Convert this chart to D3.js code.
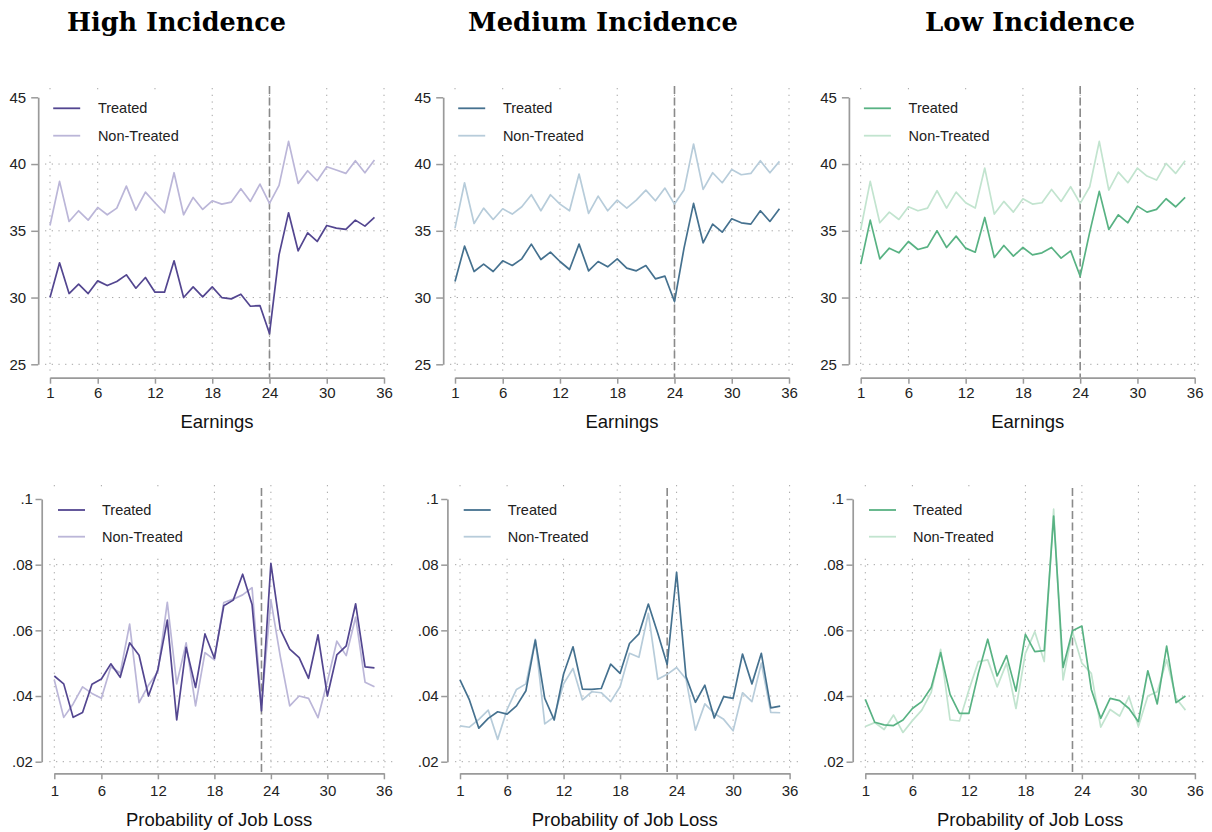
<!DOCTYPE html>
<html>
<head>
<meta charset="utf-8">
<script src="https://cdn.jsdelivr.net/npm/d3@7"></script>
<style>
  body { margin: 0; background: #fff; }
  svg { display: block; }
</style>
</head>
<body>
<svg id="chart" width="1212" height="832"></svg>
<script>
// Event-time periods (months)
const periods = [1,2,3,4,5,6,7,8,9,10,11,12,13,14,15,16,17,18,19,20,21,22,23,24,25,26,27,28,29,30,31,32,33,34,35];
const xTickValues = [1, 6, 12, 18, 24, 30, 36];
const earningsTicks = [25, 30, 35, 40, 45];
const jobLossTicks = [0.02, 0.04, 0.06, 0.08, 0.1];
const groupTitles = ["High Incidence", "Medium Incidence", "Low Incidence"];
const seriesNames = ["Treated", "Non-Treated"];
const rowLabels = ["Earnings", "Probability of Job Loss"];
const eventPeriods = [24, 23];

// Earnings
const earnHighTreated = [30.0, 32.6, 30.3, 31.0, 30.3, 31.25, 30.9, 31.2, 31.7, 30.7, 31.5, 30.4, 30.4, 32.75, 30.0, 30.8, 30.05, 30.8, 30.0, 29.9, 30.25, 29.35, 29.4, 27.3, 33.2, 36.35, 33.5, 34.85, 34.2, 35.4, 35.2, 35.1, 35.8, 35.35, 36.0];
const earnHighControl = [35.4, 38.7, 35.7, 36.5, 35.8, 36.75, 36.2, 36.7, 38.35, 36.55, 37.9, 37.1, 36.35, 39.35, 36.2, 37.5, 36.6, 37.25, 37.0, 37.15, 38.15, 37.2, 38.5, 37.05, 38.4, 41.7, 38.55, 39.5, 38.75, 39.8, 39.55, 39.3, 40.25, 39.35, 40.3];
const earnMedTreated = [31.2, 33.85, 31.95, 32.5, 31.95, 32.75, 32.4, 32.9, 34.0, 32.85, 33.4, 32.7, 32.1, 34.0, 32.0, 32.7, 32.3, 32.9, 32.2, 32.0, 32.4, 31.4, 31.6, 29.7, 33.7, 37.05, 34.1, 35.5, 34.9, 35.9, 35.6, 35.5, 36.5, 35.7, 36.65];
const earnMedControl = [35.2, 38.6, 35.55, 36.7, 35.85, 36.65, 36.25, 36.8, 37.7, 36.5, 37.7, 37.0, 36.5, 39.25, 36.3, 37.6, 36.5, 37.3, 36.7, 37.3, 38.05, 37.25, 38.2, 37.0, 38.05, 41.5, 38.1, 39.35, 38.6, 39.6, 39.2, 39.3, 40.25, 39.35, 40.2];
const earnLowTreated = [32.5, 35.8, 32.9, 33.7, 33.35, 34.2, 33.6, 33.8, 35.0, 33.75, 34.6, 33.7, 33.4, 36.0, 33.0, 33.9, 33.1, 33.75, 33.2, 33.35, 33.75, 32.95, 33.5, 31.6, 34.9, 37.95, 35.1, 36.2, 35.6, 36.85, 36.4, 36.6, 37.4, 36.8, 37.5];
const earnLowControl = [35.1, 38.7, 35.6, 36.4, 35.85, 36.8, 36.5, 36.7, 38.0, 36.7, 37.9, 37.1, 36.7, 39.7, 36.25, 37.2, 36.4, 37.4, 37.0, 37.1, 38.1, 37.2, 38.3, 37.05, 38.3, 41.7, 38.05, 39.4, 38.6, 39.7, 39.1, 38.8, 40.05, 39.3, 40.25];

// Probability of job loss
const lossHighTreated = [0.0461, 0.0437, 0.0335, 0.035, 0.0436, 0.0452, 0.0498, 0.0457, 0.0562, 0.0524, 0.040, 0.0481, 0.0631, 0.0327, 0.0548, 0.0426, 0.0589, 0.0515, 0.0675, 0.0692, 0.0771, 0.0679, 0.0355, 0.0804, 0.0603, 0.0543, 0.0517, 0.0454, 0.0586, 0.040, 0.0525, 0.0553, 0.0681, 0.0489, 0.0486];
const lossHighControl = [0.0449, 0.0335, 0.0376, 0.0428, 0.0408, 0.0393, 0.0489, 0.047, 0.0619, 0.038, 0.0433, 0.0474, 0.0685, 0.0437, 0.0562, 0.037, 0.0532, 0.051, 0.0685, 0.0695, 0.0708, 0.073, 0.037, 0.0692, 0.052, 0.037, 0.040, 0.0393, 0.0334, 0.0444, 0.0567, 0.0523, 0.064, 0.0442, 0.0428];
const lossMedTreated = [0.0449, 0.0388, 0.0302, 0.0332, 0.0352, 0.0345, 0.037, 0.0416, 0.057, 0.0393, 0.0327, 0.0467, 0.055, 0.0421, 0.042, 0.0423, 0.0497, 0.0469, 0.056, 0.0589, 0.068, 0.0591, 0.0496, 0.0777, 0.0459, 0.0381, 0.0433, 0.0333, 0.0398, 0.0393, 0.0528, 0.0437, 0.053, 0.0364, 0.0369];
const lossMedControl = [0.0309, 0.0305, 0.0329, 0.0357, 0.0268, 0.0359, 0.042, 0.0437, 0.0573, 0.0315, 0.0337, 0.0437, 0.0484, 0.0388, 0.0413, 0.041, 0.0383, 0.0428, 0.053, 0.0518, 0.0652, 0.0451, 0.0466, 0.0487, 0.0452, 0.0296, 0.0376, 0.0347, 0.0329, 0.0294, 0.041, 0.0383, 0.05, 0.035, 0.0349];
const lossLowTreated = [0.039, 0.032, 0.0312, 0.031, 0.0327, 0.0362, 0.0383, 0.0426, 0.0532, 0.0405, 0.0347, 0.0347, 0.0469, 0.0573, 0.0461, 0.0523, 0.0415, 0.0588, 0.0535, 0.0538, 0.0948, 0.0487, 0.0599, 0.0613, 0.042, 0.0332, 0.0393, 0.0386, 0.0362, 0.0322, 0.0477, 0.0376, 0.0552, 0.038, 0.040];
const lossLowControl = [0.0307, 0.0319, 0.0298, 0.0342, 0.0289, 0.0325, 0.0357, 0.0411, 0.0542, 0.0327, 0.0324, 0.0418, 0.0505, 0.051, 0.0428, 0.05, 0.0362, 0.053, 0.0596, 0.0505, 0.0969, 0.0449, 0.0596, 0.05, 0.0469, 0.0305, 0.0359, 0.0339, 0.0398, 0.0307, 0.04, 0.0413, 0.051, 0.0393, 0.0357];

const treatedColors = ["#534690", "#45718f", "#58b283"];
const controlColors = ["#bbb6d8", "#b7ccda", "#c2e4cf"];

const svg = d3.select("#chart");
const FONT = "'Liberation Sans', Arial, Helvetica, sans-serif";

// Row geometry
const rows = [
  {
    label: rowLabels[0], ticks: earningsTicks, domain: [25, 45], yRange: [364.3, 97.3],
    xStarts: [50, 455, 860.7], xSpan: 334, axisGap: 11.8,
    xAxisY: 377.7, gridTop: 88, gridBottom: 372, dashTop: 86,
    tickLabelY: 398, labelY: 428, tickLen: 7, labelPad: 5,
    legendTop: 108.3, legendStep: 27.4, legendLine: [15, 42], legendText: 59.7,
    legendBox: [92, 155], legendBoxW: 150,
    event: eventPeriods[0], fmt: d => String(d),
    series: [[earnHighTreated, earnHighControl], [earnMedTreated, earnMedControl], [earnLowTreated, earnLowControl]]
  },
  {
    label: rowLabels[1], ticks: jobLossTicks, domain: [0.02, 0.1], yRange: [761.7, 499],
    xStarts: [54.3, 460, 865.3], xSpan: 329.6, axisGap: 12.6,
    xAxisY: 773.3, gridTop: 485, gridBottom: 768, dashTop: 488,
    tickLabelY: 796, labelY: 826, tickLen: 6.2, labelPad: 2.6,
    legendTop: 510, legendStep: 26.7, legendLine: [16.3, 43.3], legendText: 60.3,
    legendBox: [489, 556], legendBoxW: 152,
    event: eventPeriods[1], fmt: d => String(d).replace(/^0\./, "."),
    series: [[lossHighTreated, lossHighControl], [lossMedTreated, lossMedControl], [lossLowTreated, lossLowControl]]
  }
];

rows.forEach(row => {
  row.xStarts.forEach((xs, col) => {
    const x = d3.scaleLinear().domain([1, 36]).range([xs, xs + row.xSpan]);
    const y = d3.scaleLinear().domain(row.domain).range(row.yRange);
    const axisX = xs - row.axisGap;
    const g = svg.append("g");

    // dotted grid
    const grid = g.append("g").attr("stroke", "#a6a6a6").attr("stroke-width", 1)
      .attr("stroke-dasharray", "1.3,5.4").attr("fill", "none");
    grid.selectAll("line.v").data(xTickValues).join("line").attr("class", "v")
      .attr("x1", d => x(d)).attr("x2", d => x(d))
      .attr("y1", row.gridTop).attr("y2", row.gridBottom);
    const hTicks = row.ticks.filter(t => t !== row.domain[1]);
    grid.selectAll("line.h").data(hTicks).join("line").attr("class", "h")
      .attr("x1", xs - 5).attr("x2", xs + row.xSpan + 9)
      .attr("y1", d => y(d)).attr("y2", d => y(d));

    // event line
    g.append("line")
      .attr("x1", x(row.event)).attr("x2", x(row.event))
      .attr("y1", row.dashTop).attr("y2", row.xAxisY)
      .attr("stroke", "#8a8a8a").attr("stroke-width", 1.6)
      .attr("stroke-dasharray", "8,3.5");

    // y axis
    const yAxis = d3.axisLeft(y).tickValues(row.ticks).tickSize(row.tickLen)
      .tickPadding(row.labelPad).tickFormat(row.fmt).tickSizeOuter(0);
    const ya = g.append("g").attr("transform", `translate(${axisX},0)`).call(yAxis);
    ya.select(".domain").attr("stroke", "#9a9a9a").attr("stroke-width", 1.7);
    ya.selectAll(".tick line").attr("stroke", "#9a9a9a").attr("stroke-width", 1.5);
    ya.selectAll(".tick text").attr("fill", "#222").attr("font-family", FONT).attr("font-size", 15);

    // x axis
    const xAxis = d3.axisBottom(x).tickValues(xTickValues).tickSize(6).tickSizeOuter(0).tickPadding(3);
    const xa = g.append("g").attr("transform", `translate(0,${row.xAxisY})`).call(xAxis);
    xa.select(".domain").attr("stroke", "#9a9a9a").attr("stroke-width", 1.7);
    xa.selectAll(".tick line").attr("stroke", "#9a9a9a").attr("stroke-width", 1.5);
    xa.selectAll(".tick text").attr("fill", "#222").attr("font-family", FONT).attr("font-size", 15)
      .attr("dy", null).attr("y", row.tickLabelY - row.xAxisY);

    // axis title
    g.append("text").attr("x", (x(1) + x(36)) / 2).attr("y", row.labelY)
      .attr("text-anchor", "middle").attr("font-family", FONT).attr("font-size", 18.5)
      .attr("fill", "#111").text(row.label);

    // series
    const line = d3.line().x((d, i) => x(periods[i])).y(d => y(d));
    const [treated, control] = row.series[col];
    g.append("path").datum(control).attr("d", line).attr("fill", "none")
      .attr("stroke", controlColors[col]).attr("stroke-width", 1.7).attr("stroke-linejoin", "round");
    g.append("path").datum(treated).attr("d", line).attr("fill", "none")
      .attr("stroke", treatedColors[col]).attr("stroke-width", 1.7).attr("stroke-linejoin", "round");

    // legend
    const lg = g.append("g");
    lg.append("rect").attr("x", axisX + 6).attr("y", row.legendBox[0])
      .attr("width", row.legendBoxW).attr("height", row.legendBox[1] - row.legendBox[0]).attr("fill", "#fff");
    [treatedColors[col], controlColors[col]].forEach((c, i) => {
      const ly = row.legendTop + i * row.legendStep;
      lg.append("line").attr("x1", axisX + row.legendLine[0]).attr("x2", axisX + row.legendLine[1])
        .attr("y1", ly).attr("y2", ly).attr("stroke", c).attr("stroke-width", 1.8);
      lg.append("text").attr("x", axisX + row.legendText).attr("y", ly + 5)
        .attr("font-family", FONT).attr("font-size", 14.5).attr("fill", "#222").text(seriesNames[i]);
    });
  });
});

// column titles
const titleCenters = [176.5, 603, 1030];
const titleWidths = [219, 270, 210];
groupTitles.forEach((t, i) => {
  const txt = svg.append("text").attr("x", titleCenters[i]).attr("y", 31)
    .attr("text-anchor", "middle").attr("font-family", "'DejaVu Serif', 'Liberation Serif', serif")
    .attr("font-weight", "bold").attr("font-size", 24).attr("fill", "#000").text(t);
  const w = txt.node().getComputedTextLength();
  txt.attr("font-size", 24 * titleWidths[i] / w);
});
</script>
</body>
</html>
